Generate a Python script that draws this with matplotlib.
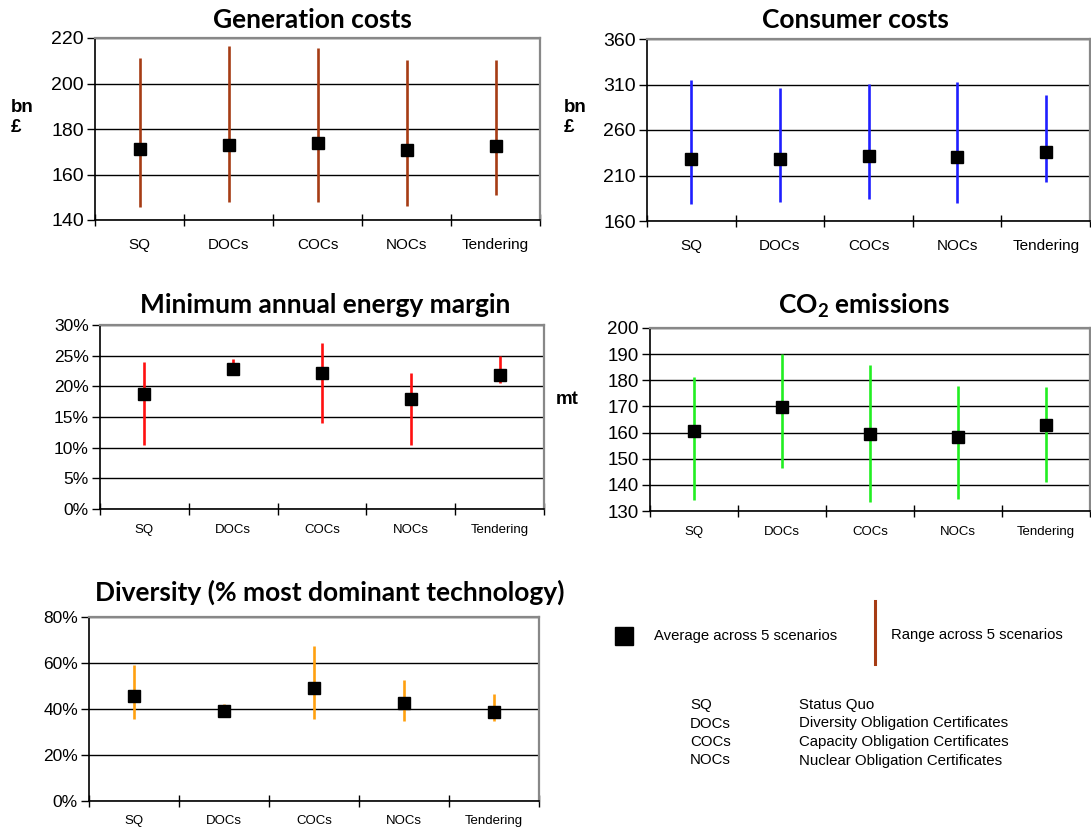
import matplotlib
matplotlib.use("Agg")
import matplotlib.pyplot as plt
from matplotlib.ticker import FixedLocator, PercentFormatter, NullFormatter
from matplotlib.lines import Line2D

plt.rcParams['font.family'] = ['Liberation Sans', 'DejaVu Sans']
plt.rcParams['mathtext.fontset'] = 'custom'
plt.rcParams['mathtext.bf'] = 'Lato:bold'
plt.rcParams['mathtext.rm'] = 'Lato'

categories = ['SQ', 'DOCs', 'COCs', 'NOCs', 'Tendering']

gen_avg = [171.3, 172.9, 173.8, 170.8, 172.7]
gen_low = [145.6, 147.8, 148.1, 146.3, 150.9]
gen_high = [211.2, 216.3, 215.6, 210.2, 210.5]

con_avg = [227.8, 227.8, 231.1, 230.3, 235.5]
con_low = [179.0, 181.2, 184.5, 179.8, 203.2]
con_high = [314.6, 305.8, 310.9, 313.1, 298.8]

mar_avg = [18.8, 22.9, 22.2, 18.0, 21.8]
mar_low = [10.4, 21.8, 14.0, 10.5, 20.6]
mar_high = [23.9, 24.5, 27.0, 22.1, 25.0]

co2_avg = [160.6, 169.9, 159.3, 158.2, 163.0]
co2_low = [134.2, 146.4, 133.5, 134.7, 141.2]
co2_high = [181.4, 190.2, 185.7, 177.9, 177.6]

div_avg = [45.5, 39.0, 49.0, 42.8, 38.5]
div_low = [35.8, 36.6, 35.8, 34.8, 34.8]
div_high = [59.2, 42.0, 67.6, 52.4, 46.6]

abbrevs = ['SQ', 'DOCs', 'COCs', 'NOCs']
abbrev_desc = ['Status Quo', 'Diversity Obligation Certificates',
               'Capacity Obligation Certificates', 'Nuclear Obligation Certificates']

W, H = 1091, 827
fig = plt.figure(figsize=(W / 100, H / 100), dpi=100)


def px_axes(x0, y0, x1, y1):
    return fig.add_axes([x0 / W, 1 - y1 / H, (x1 - x0) / W, (y1 - y0) / H])


def ftext(x, y, s, **kw):
    fig.text(x / W, 1 - y / H, s, **kw)


def panel(rect, avg, low, high, color, yticks, pct, ytick_fs, xtick_fs, xpad=13):
    ax = px_axes(*rect)
    n = len(categories)
    xs = list(range(n))
    ax.vlines(xs, low, high, color=color, lw=1.9, zorder=2)
    ax.plot(xs, avg, 's', color='black', ms=9.3, zorder=3, linestyle='none')
    ax.set_xlim(-0.5, n - 0.5)
    ax.set_ylim(yticks[0], yticks[-1])
    ax.set_axisbelow(True)
    ax.yaxis.set_major_locator(FixedLocator(yticks))
    if pct:
        ax.yaxis.set_major_formatter(PercentFormatter(decimals=0))
    ax.yaxis.grid(True, color='black', lw=1.0)
    ax.xaxis.set_major_locator(FixedLocator([i - 0.5 for i in range(n + 1)]))
    ax.xaxis.set_major_formatter(NullFormatter())
    ax.xaxis.set_minor_locator(FixedLocator(xs))
    ax.set_xticklabels(categories, minor=True)
    ax.tick_params(axis='x', which='major', direction='inout', length=9, width=1, color='black')
    ax.tick_params(axis='x', which='minor', length=0, pad=xpad, labelsize=xtick_fs)
    ax.tick_params(axis='y', direction='out', length=6, width=1, labelsize=ytick_fs, pad=2)
    for s in ['top', 'right']:
        ax.spines[s].set_color('#888888')
        ax.spines[s].set_linewidth(1.6)
    for s in ['left', 'bottom']:
        ax.spines[s].set_color('black')
        ax.spines[s].set_linewidth(1.2)
    return ax


title_kw = dict(fontfamily='Lato', fontweight='bold', fontsize=19, ha='center', va='center')
ylab_kw = dict(fontsize=13.5, fontweight='bold', va='center')

panel((95, 38, 540, 220), gen_avg, gen_low, gen_high, '#a63c14',
      [140, 160, 180, 200, 220], False, 14, 11)
ftext(312, 20, 'Generation costs', **title_kw)
ftext(11, 107, 'bn', **ylab_kw)
ftext(11, 128, '£', **ylab_kw)

panel((647, 39, 1090, 221), con_avg, con_low, con_high, '#1f1fff',
      [160, 210, 260, 310, 360], False, 14, 11)
ftext(855, 20, 'Consumer costs', **title_kw)
ftext(564, 107, 'bn', **ylab_kw)
ftext(564, 128, '£', **ylab_kw)

panel((100, 325, 544, 509), mar_avg, mar_low, mar_high, '#ff1010',
      [0, 5, 10, 15, 20, 25, 30], True, 12.5, 9.5, xpad=11)
ftext(325, 305, 'Minimum annual energy margin', **title_kw)

panel((650, 328, 1090, 511), co2_avg, co2_low, co2_high, '#22ee22',
      [130, 140, 150, 160, 170, 180, 190, 200], False, 13.5, 9.5, xpad=11)
ftext(864, 306, r'CO$\mathbf{_2}$ emissions', **title_kw)
ftext(556, 399, 'mt', **ylab_kw)

panel((89, 617, 539, 801), div_avg, div_low, div_high, '#ffa010',
      [0, 20, 40, 60, 80], True, 12.5, 9.5, xpad=10)
ftext(330, 592, 'Diversity (% most dominant technology)', **title_kw)

# Legend
fig.add_artist(Line2D([624 / W], [1 - 636 / H], marker='s', color='black', ms=13.5,
                      linestyle='none', transform=fig.transFigure))
ftext(654, 636, 'Average across 5 scenarios', fontsize=10.7, va='center')
fig.add_artist(Line2D([875 / W, 875 / W], [1 - 601 / H, 1 - 664 / H], color='#a63c14',
                      lw=2.2, transform=fig.transFigure))
ftext(891, 635, 'Range across 5 scenarios', fontsize=10.7, va='center')

for i, (a, d) in enumerate(zip(abbrevs, abbrev_desc)):
    y = 705 + i * 18.5
    ftext(690, y, a, fontsize=10.8, va='center')
    ftext(799, y, d, fontsize=10.8, va='center')

fig.savefig('out.png', dpi=100)
